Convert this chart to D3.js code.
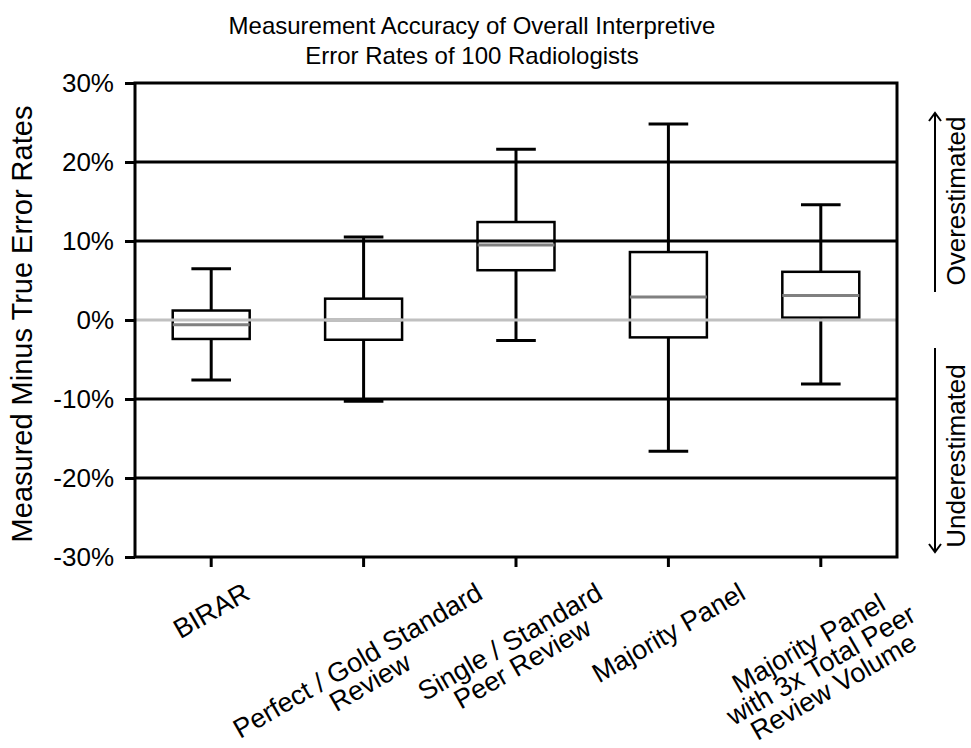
<!DOCTYPE html>
<html>
<head>
<meta charset="utf-8">
<script src="https://cdn.jsdelivr.net/npm/d3@7"></script>
<style>
  body { margin: 0; background: #fff; }
  text { font-family: "Liberation Sans", Arial, sans-serif; fill: #000; }
</style>
</head>
<body>
<div id="chart"></div>
<script>
// data (% measured minus true)
const categories = [
  ["BIRAR"],
  ["Perfect / Gold Standard", "Review"],
  ["Single / Standard", "Peer Review"],
  ["Majority Panel"],
  ["Majority Panel", "with 3x Total Peer", "Review Volume"]
];
const whiskerLow  = [-7.6, -10.3, -2.6, -16.6, -8.1];
const quartile1   = [-2.4,  -2.5,  6.3,  -2.2,  0.3];
const medians     = [-0.6,   0.0,  9.5,   2.9,  3.1];
const quartile3   = [ 1.2,   2.7, 12.4,   8.6,  6.1];
const whiskerHigh = [ 6.5,  10.5, 21.6,  24.8, 14.6];
const yTicks = [-30, -20, -10, 0, 10, 20, 30];
const gridValues = [-20, -10, 10, 20];

const W = 971, H = 748;
const margin = { top: 83, left: 135, right: 74, bottom: 191 };
const plotW = W - margin.left - margin.right;
const plotH = H - margin.top - margin.bottom;

const svg = d3.select('#chart').append('svg')
  .attr('width', W)
  .attr('height', H);

const g = svg.append('g')
  .attr('transform', `translate(${margin.left},${margin.top})`);

const xScale = d3.scaleBand()
  .domain(d3.range(categories.length))
  .range([0, plotW]);
const yScale = d3.scaleLinear()
  .domain([-30, 30])
  .range([plotH, 0]);

const boxW = xScale.bandwidth() * 0.505;
const capW = xScale.bandwidth() * 0.26;
const cx = i => xScale(i) + xScale.bandwidth() / 2;

// gridlines
g.selectAll('.grid')
  .data(gridValues)
  .enter().append('line')
  .attr('x1', 0).attr('x2', plotW)
  .attr('y1', d => yScale(d)).attr('y2', d => yScale(d))
  .attr('stroke', '#000').attr('stroke-width', 3);

// boxes
const rows = d3.range(categories.length);
const box = g.selectAll('.box').data(rows).enter().append('g');
box.append('line')
  .attr('x1', cx).attr('x2', cx)
  .attr('y1', i => yScale(quartile3[i])).attr('y2', i => yScale(whiskerHigh[i]))
  .attr('stroke', '#000').attr('stroke-width', 3);
box.append('line')
  .attr('x1', cx).attr('x2', cx)
  .attr('y1', i => yScale(quartile1[i])).attr('y2', i => yScale(whiskerLow[i]))
  .attr('stroke', '#000').attr('stroke-width', 3);
box.append('line')
  .attr('x1', i => cx(i) - capW / 2).attr('x2', i => cx(i) + capW / 2)
  .attr('y1', i => yScale(whiskerHigh[i])).attr('y2', i => yScale(whiskerHigh[i]))
  .attr('stroke', '#000').attr('stroke-width', 3);
box.append('line')
  .attr('x1', i => cx(i) - capW / 2).attr('x2', i => cx(i) + capW / 2)
  .attr('y1', i => yScale(whiskerLow[i])).attr('y2', i => yScale(whiskerLow[i]))
  .attr('stroke', '#000').attr('stroke-width', 3);
box.append('rect')
  .attr('x', i => cx(i) - boxW / 2)
  .attr('width', boxW)
  .attr('y', i => yScale(quartile3[i]))
  .attr('height', i => yScale(quartile1[i]) - yScale(quartile3[i]))
  .attr('fill', 'none')
  .attr('stroke', '#000').attr('stroke-width', 2.5);

// zero line
g.append('line')
  .attr('x1', 0).attr('x2', plotW)
  .attr('y1', yScale(0)).attr('y2', yScale(0))
  .attr('stroke', '#c0c0c0').attr('stroke-width', 3);

// medians
box.append('line')
  .attr('x1', i => cx(i) - boxW / 2).attr('x2', i => cx(i) + boxW / 2)
  .attr('y1', i => yScale(medians[i])).attr('y2', i => yScale(medians[i]))
  .attr('stroke', '#808080').attr('stroke-width', 3);

// frame
g.append('rect')
  .attr('width', plotW).attr('height', plotH)
  .attr('fill', 'none').attr('stroke', '#000').attr('stroke-width', 3);

// y axis
const yAxis = d3.axisLeft(yScale)
  .tickValues(yTicks)
  .tickSize(10)
  .tickPadding(11)
  .tickFormat(d => d + '%');
const yAxisGroup = g.append('g').call(yAxis);
yAxisGroup.select('.domain').remove();
yAxisGroup.selectAll('.tick line').attr('stroke-width', 3);
yAxisGroup.selectAll('.tick text')
  .attr('font-size', 26)
  .attr('font-family', '"Liberation Sans", Arial, sans-serif');

// x axis ticks
const xAxis = d3.axisBottom(xScale).tickSize(10).tickFormat('');
const xAxisGroup = g.append('g')
  .attr('transform', `translate(0,${plotH})`)
  .call(xAxis);
xAxisGroup.select('.domain').remove();
xAxisGroup.selectAll('.tick line').attr('stroke-width', 3);

// x labels, rotated blocks
const angle = 30;
const fs = 27, lh = 25;
const rad = angle * Math.PI / 180;
rows.forEach(i => {
  const lines = categories[i];
  const lab = g.append('g');
  const texts = lab.selectAll('text').data(lines).enter().append('text')
    .attr('text-anchor', 'middle')
    .attr('font-size', fs)
    .attr('y', (d, j) => (j - (lines.length - 1) / 2) * lh)
    .attr('dy', '0.35em')
    .text(d => d);
  const w = d3.max(texts.nodes(), n => n.getComputedTextLength());
  const h = lines.length * lh;
  const half = w / 2 * Math.sin(rad) + h / 2 * Math.cos(rad);
  const top = plotH + 22;
  lab.attr('transform', `translate(${cx(i)},${top + half}) rotate(${-angle})`);
});

// titles
svg.append('text')
  .attr('x', 472).attr('y', 34)
  .attr('text-anchor', 'middle')
  .attr('font-size', 24)
  .text('Measurement Accuracy of Overall Interpretive');
svg.append('text')
  .attr('x', 472).attr('y', 64)
  .attr('text-anchor', 'middle')
  .attr('font-size', 24)
  .text('Error Rates of 100 Radiologists');

svg.append('text')
  .attr('transform', `translate(32,${margin.top + yScale(0) + 4}) rotate(-90)`)
  .attr('text-anchor', 'middle')
  .attr('font-size', 29)
  .text('Measured Minus True Error Rates');

// over / under annotation
const ax = 935;
const ann = svg.append('g').attr('stroke', '#000').attr('stroke-width', 2).attr('fill', 'none');
ann.append('line').attr('x1', ax).attr('x2', ax).attr('y1', 292).attr('y2', 113);
ann.append('path').attr('d', `M${ax - 6},${121} L${ax},${113} L${ax + 6},${121}`);
ann.append('line').attr('x1', ax).attr('x2', ax).attr('y1', 348).attr('y2', 552);
ann.append('path').attr('d', `M${ax - 6},${544} L${ax},${552} L${ax + 6},${544}`);

svg.append('text')
  .attr('transform', `translate(965,201) rotate(-90)`)
  .attr('text-anchor', 'middle')
  .attr('font-size', 26)
  .text('Overestimated');
svg.append('text')
  .attr('transform', `translate(965,456) rotate(-90)`)
  .attr('text-anchor', 'middle')
  .attr('font-size', 26)
  .text('Underestimated');
</script>
</body>
</html>
